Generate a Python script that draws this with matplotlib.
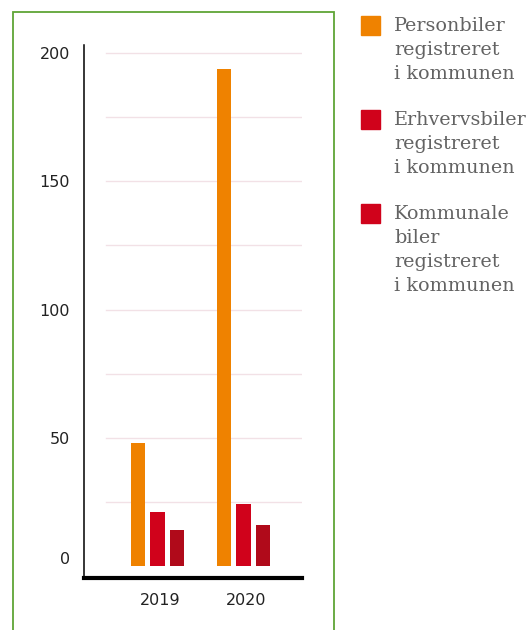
import numpy as np
import matplotlib
matplotlib.use("Agg")
import matplotlib.pyplot as plt
import matplotlib.transforms as mtransforms
from matplotlib.patches import Rectangle

# data
years = ["2019", "2020"]
personbiler = [48, 194]
erhvervsbiler = [21, 24]
kommunale = [14, 16]
series_labels = ["Personbiler\nregistreret\ni kommunen",
                 "Erhvervsbiler\nregistreret\ni kommunen",
                 "Kommunale\nbiler\nregistreret\ni kommunen"]
bar_colors = ["#ef8200", "#d0021b", "#b00a1a"]
legend_colors = ["#ef8200", "#d0021b", "#d0021b"]
yticks = [0, 50, 100, 150, 200]
grid_levels = [25, 50, 75, 100, 125, 150, 175, 200]

W, H = 531, 630
fig = plt.figure(figsize=(W / 100, H / 100), dpi=100)

# green frame around the plot area (runs off the bottom)
fig.patches.append(Rectangle((12.5 / W, -0.05), (333.5 - 12.5) / W, 1.05 - 12.5 / H,
                             transform=fig.transFigure, fill=False,
                             edgecolor="#5fa536", linewidth=1.3))

ax = fig.add_axes([84 / W, 52 / H, 218 / W, (578 - 45) / H])

x = np.arange(len(years))
width = 0.165
offset = 0.23
ax.bar(x - offset, personbiler, width, color=bar_colors[0], zorder=3)
ax.bar(x, erhvervsbiler, width, color=bar_colors[1], zorder=3)
ax.bar(x + offset, kommunale, width, color=bar_colors[2], zorder=3)

for g in grid_levels:
    ax.axhline(g, xmin=0.1, xmax=1.0, color="#f2e1e6", linewidth=1, zorder=1)

ax.set_xlim(-0.855, 1.68)
ax.set_ylim(-4.7, 203.2)
ax.set_yticks(yticks)
ax.set_yticklabels([str(t) for t in yticks])
ax.set_xticks(x + 0.03)
ax.set_xticklabels(years)
ax.tick_params(axis="y", length=0, pad=10, labelsize=11.5, labelcolor="#222222")
ax.tick_params(axis="x", length=0, pad=11, labelsize=11.5, labelcolor="#222222")

# the zero label sits a bit above its line in the original
zero_lab = ax.get_yticklabels()[0]
zero_lab.set_transform(zero_lab.get_transform() +
                       mtransforms.ScaledTranslation(0, 8 / 100, fig.dpi_scale_trans))

for s in ["top", "right"]:
    ax.spines[s].set_visible(False)
ax.spines["left"].set_linewidth(1.1)
ax.spines["bottom"].set_linewidth(3)
ax.spines["left"].set_color("black")
ax.spines["bottom"].set_color("black")
ax.set_facecolor("none")

# legend drawn by hand, square aligned with first line of each label
tops = [16, 110, 204]
for lab, col, top in zip(series_labels, legend_colors, tops):
    fig.patches.append(Rectangle((361 / W, 1 - (top + 19) / H), 19 / W, 19 / H,
                                 transform=fig.transFigure, color=col))
    fig.text(394 / W, 1 - (top + 1) / H, lab, ha="left", va="top",
             fontsize=13.8, family="DejaVu Serif", color="#636363",
             linespacing=1.43)

fig.savefig("out.png", dpi=100)
